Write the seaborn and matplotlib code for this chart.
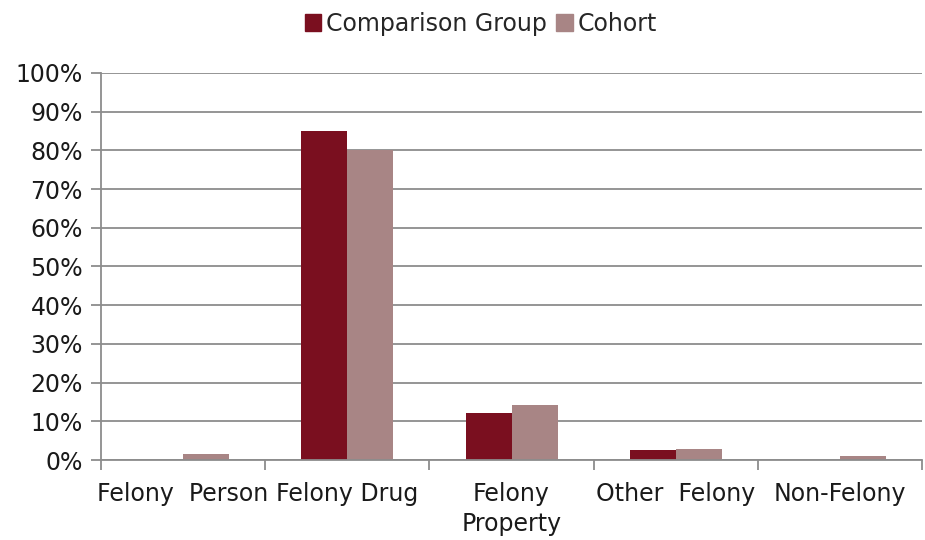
import pandas as pd
import numpy as np
import matplotlib
matplotlib.use('Agg')
import matplotlib.pyplot as plt
import seaborn as sns
from matplotlib.ticker import FuncFormatter, MultipleLocator, FixedLocator

# データ
categories = ['Felony  Person', 'Felony Drug', 'Felony\nProperty', 'Other  Felony', 'Non-Felony']
comparison = [0.0, 85.0, 12.2, 2.6, 0.0]
cohort = [1.5, 80.0, 14.3, 2.9, 1.0]
groups = ['Comparison Group', 'Cohort']
colors = ['#7a0f1f', '#a88585']

df = pd.DataFrame({
    'category': categories * 2,
    'value': comparison + cohort,
    'group': [groups[0]] * len(categories) + [groups[1]] * len(categories),
})

sns.set_theme(style='white')
plt.rcParams['font.family'] = ['DejaVu Sans']

fig, ax = plt.subplots(figsize=(9.25, 5.4), dpi=100)
fig.subplots_adjust(left=0.109, right=0.997, top=0.865, bottom=0.148)

sns.barplot(data=df, x='category', y='value', hue='group', order=categories,
            hue_order=groups, palette=colors, width=0.56, saturation=1,
            edgecolor='none', ax=ax)

ax.set_ylim(0, 100)
ax.set_xlim(-0.5, len(categories) - 0.5)
ax.yaxis.set_major_locator(MultipleLocator(10))
ax.yaxis.set_major_formatter(FuncFormatter(lambda v, p: f'{v:.0f}%'))
ax.grid(axis='y', color='#8c8c8c', linewidth=1.3)
ax.set_axisbelow(True)
ax.set_xlabel('')
ax.set_ylabel('')

for s in ['top', 'right']:
    ax.spines[s].set_visible(False)
for s in ['left', 'bottom']:
    ax.spines[s].set_color('#8c8c8c')
    ax.spines[s].set_linewidth(1.3)

# 目盛り：カテゴリ境界に外向き
ax.xaxis.set_minor_locator(FixedLocator(np.arange(-0.5, len(categories), 1)))
ax.tick_params(axis='x', which='major', length=0, pad=16, labelsize=17, labelcolor='#1a1a1a')
ax.tick_params(axis='x', which='minor', length=7, width=1.3, color='#8c8c8c', direction='out', bottom=True)
ax.tick_params(axis='y', which='major', length=7, width=1.3, color='#8c8c8c', direction='out', left=True,
               labelsize=17, labelcolor='#1a1a1a', pad=6)
for lab in ax.get_xticklabels():
    lab.set_linespacing(1.3)
    lab.set_verticalalignment('top')

ax.legend_.remove()
handles = [plt.Rectangle((0, 0), 1, 1, color=c) for c in colors]
fig.legend(handles, groups, loc='upper center', bbox_to_anchor=(0.52, 1.018), ncol=2,
           frameon=False, fontsize=17, handlelength=0.7, handleheight=0.7,
           handletextpad=0.2, columnspacing=0.4)

plt.savefig('out.png', dpi=100)
